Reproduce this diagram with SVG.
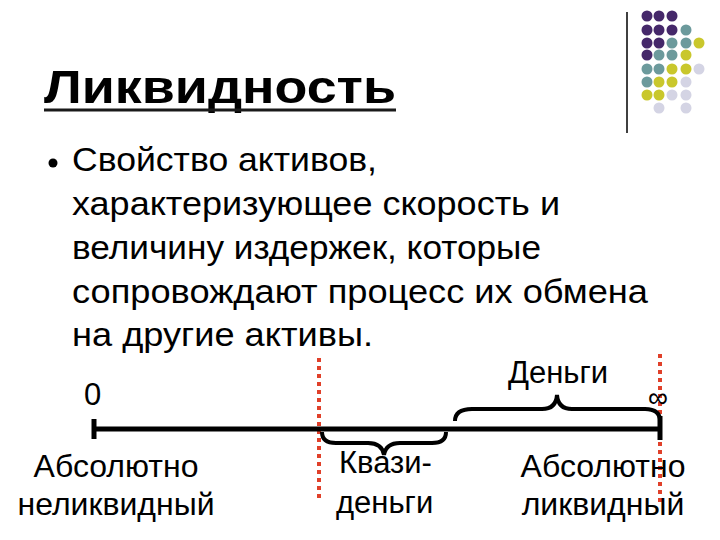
<svg xmlns="http://www.w3.org/2000/svg" width="720" height="540" viewBox="0 0 720 540">
<style>
text{font-family:"Liberation Sans",Arial,sans-serif;fill:#000}
.b{font-size:33px}
.red{stroke:#e0402a;stroke-width:4;stroke-dasharray:4 4;fill:none}
.br{fill:none;stroke:#000;stroke-width:4}
</style>
<rect width="720" height="540" fill="#fff"/>
<g id="dots">
<line x1="627" y1="12" x2="627" y2="133" stroke="#000" stroke-width="1.5"/>
<g fill="#45286a">
<circle cx="647" cy="16" r="5.5"/><circle cx="659" cy="16" r="5.5"/><circle cx="672" cy="16" r="5.5"/>
<circle cx="647" cy="30" r="5.5"/><circle cx="659" cy="30" r="5.5"/><circle cx="672" cy="30" r="5.5"/>
<circle cx="647" cy="43" r="5.5"/><circle cx="659" cy="43" r="5.5"/>
<circle cx="647" cy="55" r="5.5"/>
</g>
<g fill="#6c9a9c">
<circle cx="686" cy="30" r="5.5"/>
<circle cx="672" cy="43" r="5.5"/><circle cx="686" cy="43" r="5.5"/>
<circle cx="659" cy="55" r="5.5"/><circle cx="672" cy="55" r="5.5"/>
<circle cx="647" cy="69" r="5.5"/><circle cx="659" cy="69" r="5.5"/>
<circle cx="647" cy="82" r="5.5"/>
</g>
<g fill="#c9c72c">
<circle cx="699" cy="43" r="5.5"/>
<circle cx="686" cy="55" r="5.5"/>
<circle cx="672" cy="69" r="5.5"/><circle cx="686" cy="69" r="5.5"/>
<circle cx="659" cy="82" r="5.5"/><circle cx="672" cy="82" r="5.5"/>
<circle cx="647" cy="95" r="5.5"/><circle cx="659" cy="95" r="5.5"/>
</g>
<g fill="#d4d4e4">
<circle cx="699" cy="69" r="5.5"/>
<circle cx="686" cy="82" r="5.5"/>
<circle cx="672" cy="95" r="5.5"/><circle cx="686" cy="95" r="5.5"/>
<circle cx="659" cy="108" r="5.5"/><circle cx="686" cy="108" r="5.5"/>
</g>
</g>
<g id="title">
<text x="44" y="103" font-size="47" font-weight="bold" fill="#1a1a1a" textLength="352" lengthAdjust="spacingAndGlyphs">Ликвидность</text>
<line x1="44" y1="110" x2="396" y2="110" stroke="#1a1a1a" stroke-width="3"/>
</g>
<g id="body">
<circle cx="53" cy="163" r="4.5" fill="#000"/>
<text class="b" x="72" y="171" textLength="305" lengthAdjust="spacingAndGlyphs">Свойство активов,</text>
<text class="b" x="72" y="215" textLength="488" lengthAdjust="spacingAndGlyphs">характеризующее скорость и</text>
<text class="b" x="72" y="259" textLength="469" lengthAdjust="spacingAndGlyphs">величину издержек, которые</text>
<text class="b" x="72" y="303" textLength="576" lengthAdjust="spacingAndGlyphs">сопровождают процесс их обмена</text>
<text class="b" x="72" y="346" textLength="301" lengthAdjust="spacingAndGlyphs">на другие активы.</text>
</g>
<g id="connectors">
<line class="red" x1="319" y1="358" x2="319" y2="502"/>
<line class="red" x1="660" y1="354" x2="660" y2="502"/>
<line x1="92" y1="429" x2="662" y2="429" stroke="#000" stroke-width="5"/>
<line x1="94" y1="419" x2="94" y2="439" stroke="#000" stroke-width="5"/>
<line x1="660" y1="416" x2="660" y2="440" stroke="#000" stroke-width="5"/>
<path class="br" d="M322,432 Q322,443 336,443 L368,443 Q382,443 384,455 Q386,443 400,443 L432,443 Q446,443 446,432"/>
<path class="br" d="M455,421 Q455,409 472,409 L542,409 Q556,409 557,395 Q558,409 572,409 L645,409 Q660,409 660,421"/>
</g>
<g id="labels">
<text x="84" y="405" font-size="31">0</text>
<text x="648" y="407" font-size="28">∞</text>
<text x="508" y="383" font-size="31">Деньги</text>
<text x="116" y="477" font-size="32" text-anchor="middle">Абсолютно</text>
<text x="116" y="515" font-size="32" text-anchor="middle">неликвидный</text>
<text x="339" y="473" font-size="31">Квази-</text>
<text x="336" y="513" font-size="31">деньги</text>
<text x="603" y="477" font-size="32" text-anchor="middle">Абсолютно</text>
<text x="603" y="515" font-size="32" text-anchor="middle">ликвидный</text>
</g>
</svg>
